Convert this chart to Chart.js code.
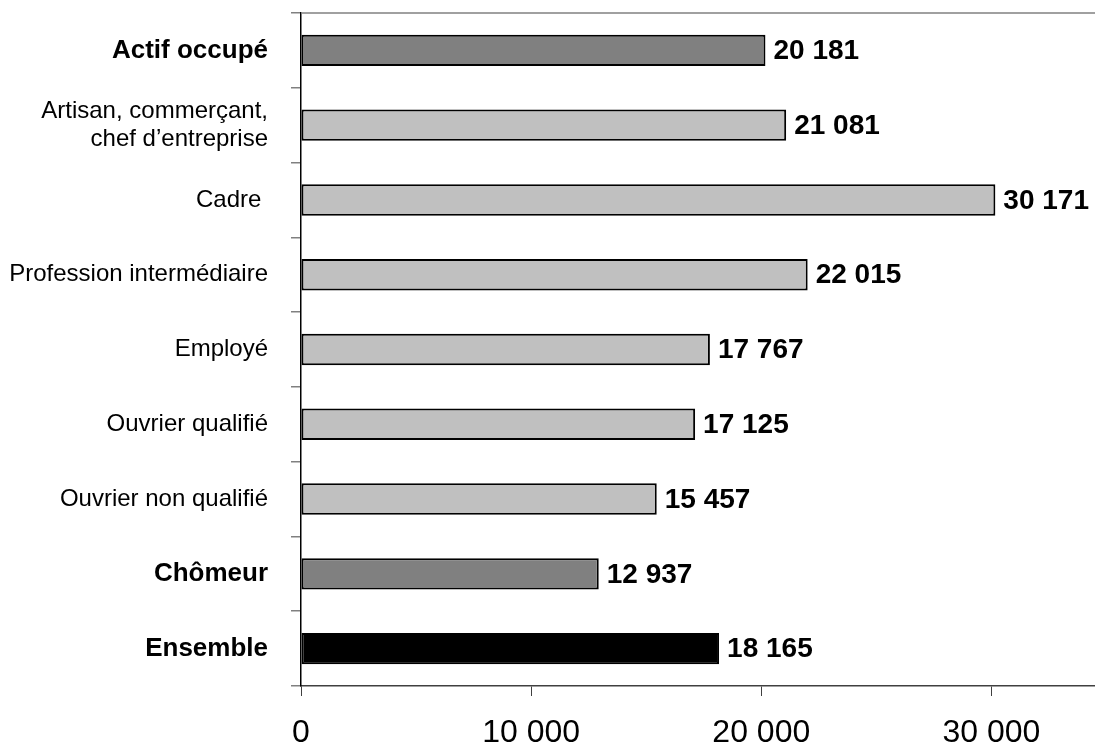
<!DOCTYPE html>
<html>
<head>
<meta charset="utf-8">
<script src="https://cdn.jsdelivr.net/npm/chart.js@4/dist/chart.umd.min.js"></script>
<style>
  html, body { margin: 0; padding: 0; background: #fff; }
  #wrap { width: 1095px; height: 745px; }
</style>
</head>
<body>
<div id="wrap"><canvas id="barChart" width="1095" height="745"></canvas></div>
<script>
// catégories (de haut en bas)
const categories = [
  'Actif occupé',
  ['Artisan, commerçant,', 'chef d\u2019entreprise'],
  'Cadre ',
  'Profession intermédiaire',
  'Employé',
  'Ouvrier qualifié',
  'Ouvrier non qualifié',
  'Chômeur',
  'Ensemble'
];
const boldCategories = [true, false, false, false, false, false, false, true, true];
const revenus = [20181, 21081, 30171, 22015, 17767, 17125, 15457, 12937, 18165];
const barColors = ['#808080', '#c0c0c0', '#c0c0c0', '#c0c0c0', '#c0c0c0', '#c0c0c0', '#c0c0c0', '#808080', '#000000'];
const xTicks = [0, 10000, 20000, 30000];

const fmt = v => String(v).replace(/\B(?=(\d{3})+(?!\d))/g, ' ');

// étiquettes de valeur à droite des barres + ligne du haut
const valueLabels = {
  id: 'valueLabels',
  afterDatasetsDraw(chart) {
    const ctx = chart.ctx;
    const area = chart.chartArea;
    const meta = chart.getDatasetMeta(0);
    ctx.save();
    ctx.strokeStyle = '#808080';
    ctx.lineWidth = 1.5;
    ctx.beginPath();
    ctx.moveTo(area.left, area.top);
    ctx.lineTo(area.right, area.top);
    ctx.stroke();

    ctx.font = 'bold 28px "Liberation Sans", Arial, sans-serif';
    ctx.fillStyle = '#000';
    ctx.textAlign = 'left';
    ctx.textBaseline = 'middle';
    meta.data.forEach((bar, i) => {
      ctx.fillText(fmt(revenus[i]), bar.x + 8, bar.y + 1);
    });
    ctx.restore();
  }
};

window.addEventListener('DOMContentLoaded', () => {
  const ctx = document.getElementById('barChart');
  new Chart(ctx, {
    type: 'bar',
    data: {
      labels: categories,
      datasets: [{
        data: revenus,
        backgroundColor: barColors,
        borderColor: '#000',
        borderWidth: 2,
        borderSkipped: false,
        barPercentage: 0.42,
        categoryPercentage: 1
      }]
    },
    options: {
      indexAxis: 'y',
      responsive: false,
      animation: false,
      layout: { padding: { top: 13, right: 0, left: 0, bottom: 0 } },
      plugins: {
        legend: { display: false },
        tooltip: { enabled: false }
      },
      scales: {
        x: {
          min: 0,
          max: 34500,
          afterBuildTicks: scale => {
            scale.ticks = xTicks.map(v => ({ value: v }));
          },
          afterFit: scale => {
            scale.height = 59;
            scale.paddingLeft = 0;
            scale.paddingRight = 0;
          },
          border: { color: '#404040', width: 1.5 },
          grid: {
            drawOnChartArea: false,
            drawTicks: true,
            tickLength: 10,
            color: '#404040',
            lineWidth: 1
          },
          ticks: {
            color: '#000',
            padding: 18,
            maxRotation: 0,
            font: { size: 32, family: '"Liberation Sans", Arial, sans-serif' },
            callback: v => fmt(v)
          }
        },
        y: {
          offset: true,
          afterFit: scale => {
            scale.width = 301;
            scale.paddingTop = 0;
            scale.paddingBottom = 0;
          },
          border: { color: '#000', width: 1.5 },
          grid: {
            offset: true,
            drawOnChartArea: false,
            tickLength: 10,
            color: '#808080',
            lineWidth: 1.5
          },
          ticks: {
            color: '#000',
            padding: 23,
            font: ctx => ({
              size: boldCategories[ctx.index] ? 26 : 24,
              weight: boldCategories[ctx.index] ? 'bold' : 'normal',
              family: '"Liberation Sans", Arial, sans-serif',
              lineHeight: 1.15
            })
          }
        }
      }
    },
    plugins: [valueLabels]
  });
});
</script>
</body>
</html>
